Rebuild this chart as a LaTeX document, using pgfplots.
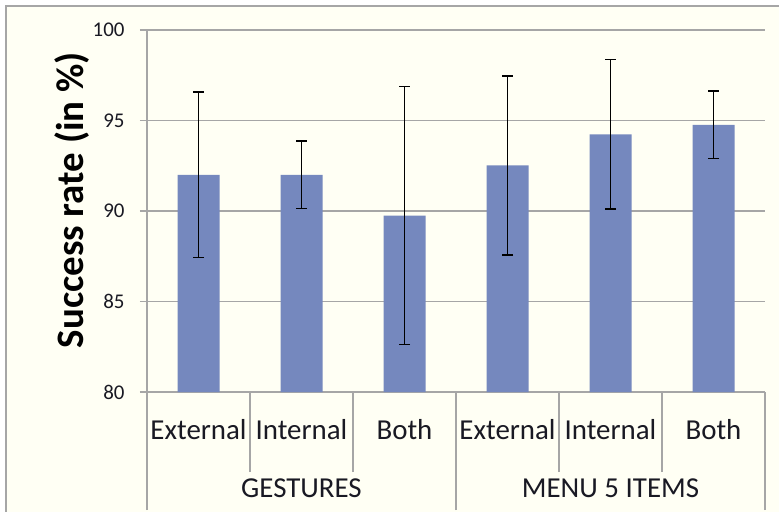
\documentclass[border=0pt]{standalone}
\usepackage{pgfplots}
\pgfplotsset{compat=1.18}
\usepackage{fontspec}
\setmainfont{Carlito}
\definecolor{barblue}{RGB}{117,136,190}
\definecolor{bgivory}{RGB}{255,255,244}
\definecolor{gridgray}{RGB}{166,166,166}
\definecolor{txt}{RGB}{25,25,35}
\begin{document}
\begin{tikzpicture}
\useasboundingbox (0,0) rectangle (779bp,512bp);
\fill[white] (0,0) rectangle (779bp,512bp);
\fill[bgivory] (6bp,0) rectangle (779bp,506bp);
\draw[gridgray, line width=1.5bp] (6bp,0) -- (6bp,506bp) -- (779bp,506bp);
\begin{axis}[
  at={(147bp,120bp)}, anchor=south west,
  scale only axis, width=618bp, height=362bp,
  xmin=-0.5, xmax=5.5, ymin=80, ymax=100,
  ybar, bar width=42bp,
  axis x line*=bottom, axis y line*=left,
  axis line style={gridgray, line width=1.6bp, -},
  ymajorgrids, grid style={gridgray, line width=1.6bp},
  ytick={80,85,90,95,100},
  xtick=data,
  xticklabels={External,Internal,Both,External,Internal,Both},
  xtick style={draw=none},
  ytick style={gridgray, line width=1.6bp},
  tick align=outside, major tick length=7bp,
  yticklabel style={font=\fontsize{21}{24}\selectfont, text=txt, xshift=-12bp},
  xticklabel style={font=\fontsize{29}{32}\selectfont, text=txt, anchor=center, yshift=-31bp},
  /pgf/number format/assume math mode=true,
  ylabel={Success rate (in \%)},
  ylabel style={font=\bfseries\fontsize{39}{42}\selectfont, text=black, at={(axis description cs:-0.1214,0.53)}, rotate=0, anchor=center},
  clip=false,
]
\addplot[fill=barblue, draw=none,
  error bars/.cd, y dir=both, y explicit,
  error bar style={line width=1.4bp, black},
  error mark options={rotate=90, mark size=5.5bp, line width=1.4bp, black}]
  table[x=x, y=y, y error=e] {
x y e
0 92.00 4.58
1 92.00 1.87
2 89.75 7.12
3 92.52 4.94
4 94.24 4.14
5 94.76 1.86
};
\pgfplotsinvokeforeach{0.5,1.5,3.5,4.5}{
  \draw[gridgray, line width=1.4bp] ([yshift=-80bp]axis cs:#1,80) -- (axis cs:#1,80);
}
\pgfplotsinvokeforeach{-0.5,2.5,5.5}{
  \draw[gridgray, line width=1.4bp] ([yshift=-118bp]axis cs:#1,80) -- (axis cs:#1,80);
}
\node[font=\fontsize{29}{32}\selectfont, text=txt] at ([yshift=-96bp]axis cs:1,80) {GESTURES};
\node[font=\fontsize{29}{32}\selectfont, text=txt] at ([yshift=-96bp]axis cs:4,80) {MENU 5 ITEMS};
\end{axis}
\end{tikzpicture}
\end{document}
